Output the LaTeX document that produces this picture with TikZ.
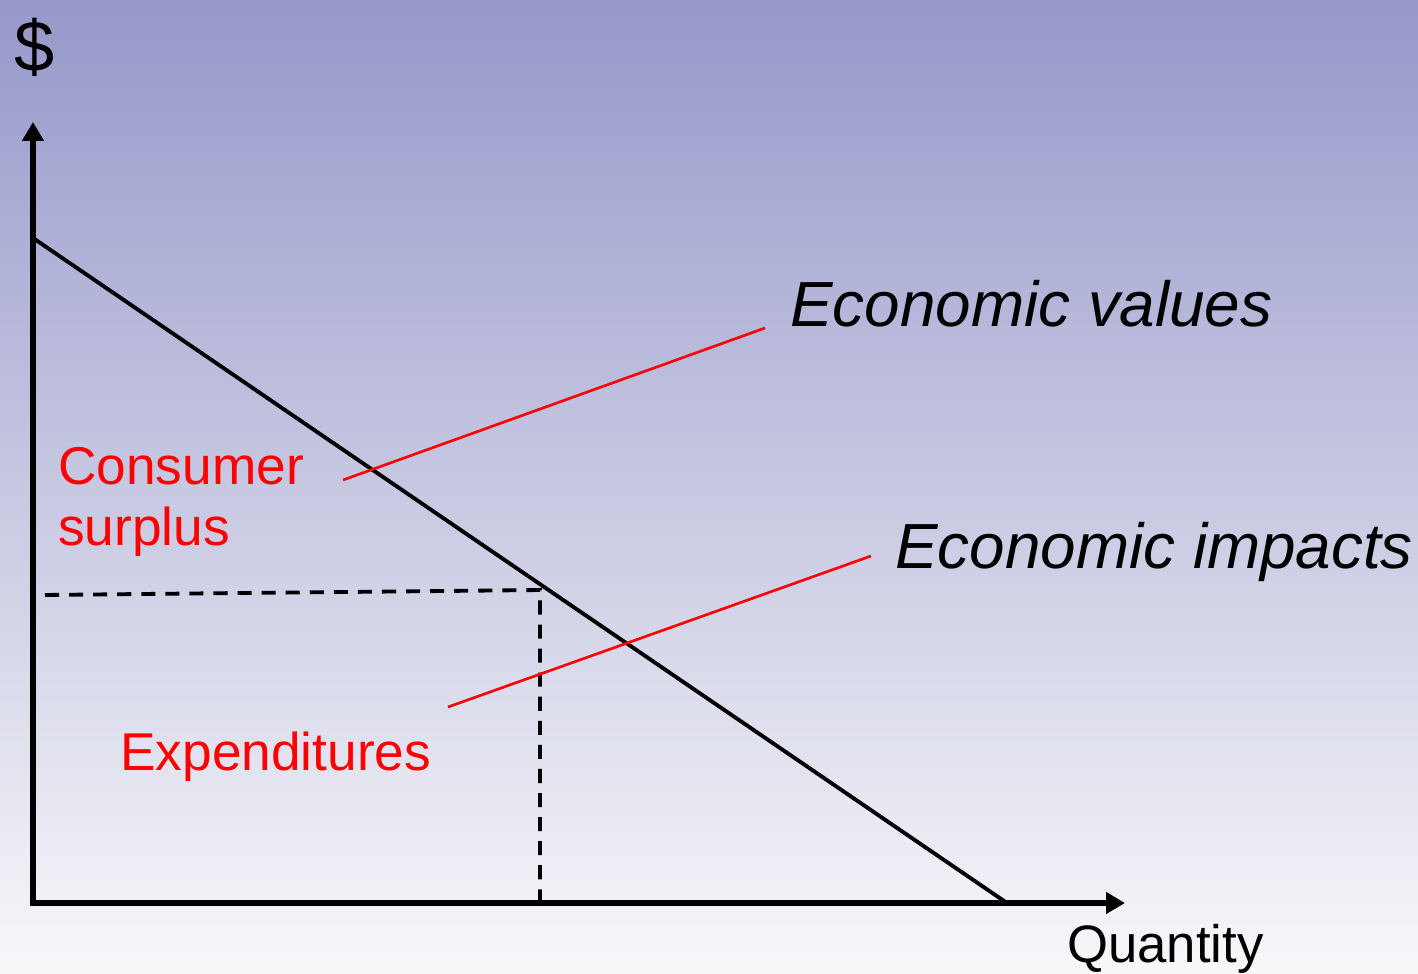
\documentclass[tikz,border=0pt]{standalone}
\usepackage{fontspec}
\setmainfont{Liberation Sans}
\usetikzlibrary{arrows.meta,positioning}
\definecolor{BgTop}{HTML}{9698CA}
\definecolor{BgBottom}{HTML}{F8F8FA}
\definecolor{LabelRed}{HTML}{FF0000}

\begin{document}
\begin{tikzpicture}[x=0.02cm, y=-0.02cm, every node/.style={inner sep=0pt},
    axis/.style={line width=3.6pt, line join=miter, {Triangle[length=0.38cm, width=0.42cm]}-{Triangle[length=0.38cm, width=0.42cm]}},
    leader/.style={draw=LabelRed, line width=1.5pt}]
  \shade[top color=BgTop, bottom color=BgBottom] (0,0) rectangle (1418,974);
  \useasboundingbox (0,0) rectangle (1418,974);

  % axes
  \coordinate (origin) at (33,903);
  \coordinate (ytip) at (33,122);
  \coordinate (xtip) at (1125,903);
  \draw[axis] (ytip) -- (origin) -- (xtip);
  \node[font=\fontsize{41}{48}\selectfont] (dollar) at (35,47) {\$};
  \node[anchor=base west, font=\fontsize{30}{36}\selectfont] (qty) at (1067,962) {Quantity};

  % demand curve and expenditure box
  \coordinate (dtop) at (33,238);
  \coordinate (dbot) at (1007,903);
  \draw[line width=2.2pt] (dtop) -- (dbot);
  \coordinate (pleft) at (45,595);
  \coordinate (pq) at (540,590);
  \coordinate (qbot) at (540,903);
  \draw[line width=2.2pt, dash pattern=on 8pt off 5.7pt] (pleft) -- (pq) -- (qbot);

  % labels
  \node[anchor=base west, align=left, text=LabelRed, font=\fontsize{30.3}{34.6}\selectfont] (cs) at (58,545) {Consumer\\surplus};
  \node[anchor=base west, text=LabelRed, font=\fontsize{30.3}{36}\selectfont] (exp) at (120,770) {Expenditures};
  \node[anchor=base west, font=\fontsize{36.3}{43}\selectfont\itshape] (values) at (790,326) {Economic values};
  \node[anchor=base west, font=\fontsize{36.3}{43}\selectfont\itshape] (impacts) at (895,568) {Economic impacts};

  \coordinate (ev-a) at (343,480);
  \coordinate (ev-b) at (765,328);
  \coordinate (ei-a) at (448,707);
  \coordinate (ei-b) at (871,556);
  \foreach \a/\b in {ev-a/ev-b, ei-a/ei-b}
    \draw[leader] (\a) -- (\b);
\end{tikzpicture}
\end{document}
